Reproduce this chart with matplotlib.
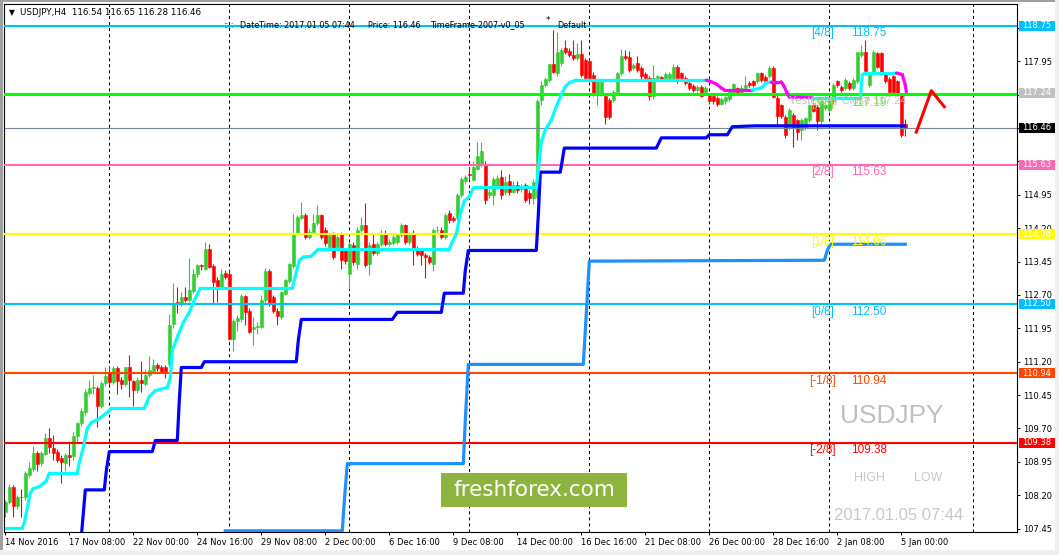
import numpy as np
import matplotlib.pyplot as plt
from matplotlib.patches import Rectangle
from matplotlib.transforms import blended_transform_factory

# USDJPY H4 bars, first bar 14 Nov 2016 16:00, last 5 Jan 2017 04:00
opens = [
    107.82, 108.04, 108.39, 107.96, 108.17, 108.15, 108.65, 108.79, 109.14, 108.92,
    109.13, 109.49, 109.26, 109.18, 109.03, 108.92, 109.11, 109.08, 109.52, 109.82,
    110.06, 110.50, 110.62, 110.62, 110.21, 110.72, 110.95, 110.75, 111.06, 110.78,
    110.69, 111.08, 110.77, 110.57, 110.80, 110.69, 110.90, 111.00, 111.12, 111.08,
    111.08, 111.15, 112.04, 112.54, 112.52, 112.65, 112.59, 112.80, 113.18, 113.38,
    113.29, 113.74, 113.34, 113.03, 112.88, 113.19, 113.18, 111.72, 112.11, 112.17,
    112.67, 112.35, 111.94, 111.99, 111.98, 112.58, 113.23, 112.65, 112.35, 112.21,
    112.73, 113.02, 113.35, 114.10, 114.42, 114.49, 114.00, 114.12, 114.31, 114.49,
    114.16, 113.78, 114.08, 113.78, 114.08, 113.70, 113.18, 113.82, 113.40, 114.17,
    114.27, 113.39, 113.85, 113.64, 113.85, 114.10, 113.85, 113.86, 113.90, 114.04,
    114.27, 113.89, 114.10, 113.74, 113.70, 113.60, 113.55, 113.40, 114.16, 114.17,
    114.00, 114.55, 114.44, 114.42, 114.94, 115.26, 115.42, 115.28, 115.54, 115.62,
    115.62, 114.94, 114.94, 115.13, 115.35, 115.02, 115.26, 115.02, 115.18, 115.08,
    115.18, 115.00, 114.87, 114.90, 117.08, 117.42, 117.53, 117.89, 117.68, 117.91,
    118.25, 118.19, 118.10, 118.02, 118.11, 117.98, 117.96, 117.65, 117.20, 117.23,
    117.16, 117.08, 117.08, 117.27, 117.68, 118.06, 118.04, 117.80, 117.91, 117.80,
    117.66, 117.57, 117.16, 117.57, 117.59, 117.57, 117.57, 117.57, 117.83, 117.68,
    117.57, 117.46, 117.40, 117.31, 117.38, 117.25, 117.20, 117.16, 117.12, 117.00,
    117.05, 117.10, 117.23, 117.34, 117.27, 117.35, 117.47, 117.50, 117.50, 117.68,
    117.60, 117.61, 117.80, 117.12, 116.97, 116.71, 116.47, 116.74, 116.63, 116.41,
    116.45, 116.63, 116.97, 116.93, 116.60, 116.90, 116.86, 117.05, 117.50, 117.38,
    117.35, 117.46, 117.35, 117.50, 118.10, 118.17, 117.42, 117.68, 118.13, 118.13,
    117.68, 117.55, 117.61, 117.50, 117.20, 116.54]
highs = [
    108.10, 108.45, 108.42, 108.20, 108.35, 108.75, 108.95, 109.31, 109.20, 109.20,
    109.60, 109.71, 109.56, 109.25, 109.10, 109.15, 109.41, 109.61, 109.85, 110.15,
    110.59, 110.78, 110.90, 110.65, 110.76, 111.08, 111.11, 111.10, 111.10, 110.85,
    111.09, 111.34, 110.80, 110.85, 111.21, 111.04, 111.32, 111.27, 111.18, 111.12,
    111.12, 112.28, 112.97, 112.88, 112.77, 112.88, 113.52, 113.29, 113.40, 113.40,
    113.88, 113.85, 113.40, 113.10, 113.29, 113.25, 113.25, 112.16, 112.25, 112.72,
    112.70, 112.40, 112.20, 112.09, 112.69, 113.31, 113.28, 112.70, 112.40, 112.80,
    113.05, 113.42, 114.51, 114.50, 114.79, 114.55, 114.18, 114.53, 114.72, 114.52,
    114.22, 114.10, 114.12, 114.05, 114.12, 113.75, 113.90, 113.88, 114.22, 114.46,
    114.76, 113.88, 114.08, 113.90, 114.15, 114.15, 113.95, 114.05, 114.10, 114.32,
    114.30, 114.12, 114.15, 113.80, 113.75, 113.65, 113.60, 114.20, 114.25, 114.22,
    114.55, 114.60, 114.48, 115.00, 115.35, 115.40, 115.58, 115.70, 116.13, 116.13,
    115.70, 115.08, 115.35, 115.40, 115.50, 115.38, 115.42, 115.25, 115.25, 115.20,
    115.22, 115.05, 115.30, 117.10, 117.50, 117.60, 117.90, 118.66, 118.62, 118.25,
    118.43, 118.25, 118.43, 118.36, 118.43, 118.02, 118.00, 117.70, 117.55, 117.55,
    117.20, 117.12, 117.30, 117.72, 118.23, 118.21, 118.19, 117.92, 118.06, 117.85,
    117.70, 117.62, 117.86, 117.65, 117.63, 117.70, 117.70, 117.90, 117.87, 117.72,
    117.61, 117.50, 117.44, 117.42, 117.42, 117.40, 117.24, 117.20, 117.16, 117.14,
    117.18, 117.36, 117.47, 117.38, 117.42, 117.61, 117.51, 117.54, 117.72, 117.72,
    117.64, 117.84, 117.84, 117.20, 117.00, 116.75, 116.90, 116.78, 116.66, 116.68,
    116.70, 117.00, 117.00, 116.97, 117.08, 117.00, 117.08, 117.46, 117.54, 117.42,
    117.57, 117.50, 117.57, 118.17, 118.32, 118.43, 117.72, 118.20, 118.17, 118.17,
    117.72, 117.59, 117.65, 117.54, 117.24, 116.65]
lows = [
    107.70, 108.00, 107.72, 107.90, 107.72, 108.10, 108.60, 108.75, 108.75, 108.85,
    109.10, 109.16, 109.00, 108.95, 108.48, 108.75, 108.86, 109.00, 109.40, 109.75,
    110.00, 110.45, 110.47, 109.74, 110.15, 110.65, 110.70, 110.70, 110.48, 110.59,
    110.65, 110.40, 110.21, 110.50, 110.51, 110.65, 110.85, 110.95, 111.00, 110.95,
    110.83, 111.10, 111.95, 112.30, 112.45, 112.55, 112.55, 112.75, 113.10, 113.25,
    113.25, 113.30, 112.52, 112.54, 112.85, 113.05, 111.70, 111.45, 111.90, 112.10,
    112.02, 111.85, 111.57, 111.83, 111.95, 112.50, 112.45, 112.30, 112.02, 112.15,
    112.70, 112.98, 113.30, 114.05, 114.40, 113.95, 113.95, 114.08, 114.28, 113.95,
    113.80, 113.70, 113.50, 113.72, 113.29, 113.40, 112.84, 113.38, 113.29, 114.12,
    113.32, 113.14, 113.60, 113.60, 113.80, 113.80, 113.80, 113.82, 113.85, 114.00,
    113.85, 113.85, 113.37, 113.58, 113.37, 113.09, 113.40, 113.24, 114.10, 113.95,
    113.95, 114.32, 114.33, 114.38, 114.90, 115.20, 115.28, 115.25, 115.50, 115.58,
    114.75, 114.88, 114.72, 115.08, 114.85, 114.95, 114.95, 114.98, 115.00, 115.02,
    114.78, 114.75, 114.75, 114.85, 116.97, 117.38, 117.48, 117.68, 117.62, 117.85,
    118.12, 118.05, 117.98, 117.98, 117.60, 117.52, 117.52, 117.18, 116.97, 117.18,
    116.54, 116.66, 117.03, 117.22, 117.64, 117.98, 117.72, 117.75, 117.72, 117.56,
    117.52, 117.08, 117.10, 117.52, 117.52, 117.53, 117.53, 117.53, 117.46, 117.53,
    117.42, 117.30, 117.27, 117.27, 117.14, 117.20, 117.00, 117.00, 116.95, 116.96,
    117.00, 117.06, 117.19, 117.21, 117.23, 117.31, 117.38, 117.38, 117.46, 117.49,
    117.46, 117.57, 117.12, 116.52, 116.68, 116.22, 116.40, 116.03, 116.18, 116.18,
    116.40, 116.58, 116.80, 116.41, 116.55, 116.86, 116.82, 117.00, 117.38, 117.27,
    117.31, 117.31, 117.31, 117.46, 118.05, 117.64, 117.38, 117.64, 117.79, 117.64,
    117.46, 117.23, 117.23, 117.16, 116.26, 116.28]
closes = [
    108.04, 108.39, 107.96, 108.17, 108.15, 108.70, 108.81, 109.16, 108.90, 109.14,
    109.49, 109.28, 109.14, 109.00, 108.94, 109.11, 109.05, 109.54, 109.82, 110.10,
    110.53, 110.62, 110.63, 110.21, 110.72, 110.89, 110.75, 111.06, 110.76, 110.69,
    111.08, 110.79, 110.57, 110.80, 110.72, 110.90, 111.02, 111.12, 111.06, 110.98,
    111.00, 112.03, 112.49, 112.49, 112.65, 112.58, 112.82, 113.18, 113.37, 113.34,
    113.74, 113.33, 113.00, 112.88, 113.16, 113.10, 111.72, 112.11, 112.18, 112.67,
    112.32, 111.87, 111.99, 112.00, 112.58, 113.23, 112.50, 112.34, 112.22, 112.77,
    113.03, 113.39, 114.10, 114.46, 114.49, 114.00, 114.12, 114.32, 114.49, 114.00,
    113.86, 114.04, 113.55, 114.00, 113.48, 113.46, 113.85, 113.44, 114.17, 114.27,
    113.37, 113.82, 113.64, 113.85, 114.10, 113.85, 113.89, 114.00, 114.04, 114.27,
    113.89, 114.08, 113.74, 113.63, 113.59, 113.55, 113.44, 114.16, 114.17, 114.00,
    114.49, 114.38, 114.38, 114.94, 115.30, 115.34, 115.40, 115.58, 115.83, 115.93,
    114.83, 115.02, 115.30, 115.33, 114.94, 115.24, 115.02, 115.18, 115.05, 115.13,
    114.83, 114.87, 115.24, 117.05, 117.42, 117.55, 117.89, 117.72, 118.17, 118.21,
    118.17, 118.10, 118.02, 118.11, 117.65, 117.57, 117.57, 117.23, 117.50, 117.49,
    116.71, 116.71, 117.27, 117.68, 118.06, 118.02, 117.76, 117.87, 117.76, 117.61,
    117.57, 117.18, 117.57, 117.61, 117.56, 117.66, 117.66, 117.83, 117.57, 117.57,
    117.46, 117.35, 117.31, 117.38, 117.18, 117.35, 117.05, 117.05, 117.00, 117.10,
    117.14, 117.32, 117.43, 117.25, 117.35, 117.42, 117.42, 117.42, 117.68, 117.53,
    117.50, 117.80, 117.15, 116.72, 116.72, 116.30, 116.86, 116.45, 116.37, 116.63,
    116.67, 116.97, 116.84, 116.60, 117.05, 116.97, 117.05, 117.42, 117.42, 117.31,
    117.53, 117.35, 117.53, 118.17, 118.17, 117.68, 117.68, 118.17, 117.83, 117.68,
    117.50, 117.27, 117.27, 117.20, 116.30, 116.46]

# trailing line (cyan = up, magenta = down), vertices in bar index / price
trail_k = [0.25, 4.25, 4.75, 5.25, 6.25, 7.0, 8.5, 10.25, 11.0, 18.0, 18.5, 19.5, 20.5,
           21.5, 23.5, 25.5, 26.5, 34.75, 36.0, 37.5, 40.5, 41.25, 41.75, 43.0, 44.5,
           46.0, 47.25, 48.75, 71.75, 72.5, 73.5, 74.5, 76.5, 77.5, 78.25, 111.0,
           111.75, 112.75, 113.75, 114.75, 116.0, 117.0, 117.75, 132.75, 133.25, 134.0,
           135.0, 136.5, 137.75, 139.0, 140.0, 141.0, 142.75, 175.25, 176.5, 177.75,
           179.0, 179.75, 186.75, 189.0, 190.25, 191.5, 194.0, 194.75, 195.5, 196.0,
           201.75, 213.75, 214.25, 215.0, 222.75, 224.25, 225.0, 225.25]
trail_p = [107.47, 107.47, 107.58, 107.80, 108.25, 108.35, 108.39, 108.52, 108.70, 108.70,
           108.93, 109.27, 109.70, 109.83, 109.92, 110.06, 110.15, 110.15, 110.42, 110.55,
           110.62, 110.82, 111.45, 111.75, 112.08, 112.31, 112.58, 112.85, 112.85, 113.12,
           113.48, 113.55, 113.57, 113.66, 113.73, 113.73, 113.89, 114.07, 114.52, 114.81,
           114.90, 115.10, 115.12, 115.12, 115.50, 116.14, 116.41, 116.63, 116.93, 117.20,
           117.38, 117.47, 117.53, 117.53, 117.49, 117.44, 117.35, 117.31, 117.31, 117.35,
           117.47, 117.49, 117.49, 117.38, 117.22, 117.15, 117.13, 117.13, 117.65, 117.69,
           117.69, 117.65, 117.42, 117.26]
trail_up = [1] * 53 + [0, 0, 0, 0, 0, 1, 1, 1, 0, 0, 0, 0, 0, 1, 1, 1, 1, 0, 0, 0, 0]

blue_k = [18.75, 20.0, 24.75, 25.25, 26.0, 36.75, 37.5, 43.0, 43.5, 44.0, 49.0, 49.75,
          72.75, 73.25, 74.0, 96.75, 98.0, 109.0, 109.75, 114.5, 115.0, 115.75, 132.75,
          133.25, 133.75, 138.75, 139.75, 162.75, 164.0, 175.25, 176.0, 180.5, 181.75,
          187.25, 224.75]
blue_p = [107.0, 108.32, 108.32, 108.75, 109.18, 109.18, 109.43, 109.43, 110.33, 111.07,
          111.07, 111.2, 111.2, 111.68, 112.15, 112.15, 112.31, 112.31, 112.74, 112.74,
          113.25, 113.7, 113.7, 114.49, 115.46, 115.46, 116.0, 116.0, 116.23, 116.23,
          116.3, 116.3, 116.48, 116.5, 116.5]

lblue_k = [55.0, 84.25, 84.75, 85.5, 114.5, 115.0, 115.75, 144.5, 145.0, 146.0, 204.75,
           205.5, 206.25, 225.0]
lblue_p = [107.40, 107.40, 108.07, 108.91, 108.91, 109.88, 111.14, 111.14, 111.9, 113.46,
           113.48, 113.70, 113.84, 113.84]

arrow_k = [227.75, 231.5, 234.75]
arrow_p = [116.36, 117.29, 116.93]

murrey_names = ['[4/8]', '[3/8]', '[2/8]', '[1/8]', '[0/8]', '[-1/8]', '[-2/8]']
murrey_values = [118.75, 117.19, 115.63, 114.06, 112.50, 110.94, 109.38]
murrey_colors = ['#00BFFF', '#9ACD32', '#FF69B4', '#FFFF00', '#00BFFF', '#FF4500', '#FF0000']
murrey_num_colors = ['#00BFFF', '#7CDC50', '#FF69B4', '#FFFF00', '#00BFFF', '#FF4500', '#FF0000']

yesterday_close = 117.24
last_price = 116.46

box_values = [118.75, 117.24, 116.46, 115.63, 114.06, 112.50, 110.94, 109.38]
box_colors = ['#00BFFF', '#C0C0C0', '#000000', '#FF69B4', '#FFFF00', '#00BFFF', '#FF4500', '#FF0000']

price_ticks = [107.45, 108.20, 108.95, 109.70, 110.45, 111.20, 111.95, 112.70, 113.45,
               114.20, 114.95, 115.70, 116.45, 117.20, 117.95, 118.70]
hidden_ticks = [115.70, 116.45, 117.20, 118.70]   # fully covered by the price boxes
time_ticks = [0, 16, 32, 48, 64, 80, 96, 112, 128, 144, 160, 176, 192, 208, 224]
time_labels = ['14 Nov 2016', '17 Nov 08:00', '22 Nov 00:00', '24 Nov 16:00', '29 Nov 08:00',
               '2 Dec 00:00', '6 Dec 16:00', '9 Dec 08:00', '14 Dec 00:00', '16 Dec 16:00',
               '21 Dec 08:00', '26 Dec 00:00', '28 Dec 16:00', '2 Jan 08:00', '5 Jan 00:00']
week_starts = [26, 56, 86, 116, 146, 176, 206, 242]

plt.rcParams['font.family'] = ['DejaVu Sans']
W, H = 1059, 555
fig = plt.figure(figsize=(W / 100, H / 100), dpi=100)
fig.patch.set_facecolor('white')
ax_l, ax_r, ax_t, ax_b = 4, 1017.3, 4, 532.3
ax = fig.add_axes([ax_l / W, (H - ax_b) / H, (ax_r - ax_l) / W, (ax_b - ax_t) / H])
ax.set_xlim(-0.325, 253.0)
ax.set_ylim(107.367, 119.238)

# weekly dashed grid
for k in week_starts:
    ax.axvline(k, color='black', lw=0.75, ls=(0, (2.9, 2.9)), zorder=1)

# candles
idx = np.arange(len(closes))
o = np.array(opens)
c = np.array(closes)
cols = np.where(c >= o, '#32CD32', '#FF0000')
ax.vlines(idx, lows, highs, colors=cols, lw=0.8, zorder=2)
ax.bar(idx, np.abs(c - o), bottom=np.minimum(o, c), width=0.76, color=cols,
       edgecolor=cols, lw=0.4, zorder=2)

# levels
ax.axhline(last_price, color='#778899', lw=0.8, zorder=2.5)
for val, col in zip(murrey_values, murrey_colors):
    if val == 117.19:
        continue
    ax.axhline(val, color=col, lw=1.5, zorder=3)
ax.axhline(117.21, color='#00FF00', lw=2.2, zorder=3)

# indicator lines
ax.plot(lblue_k, lblue_p, color='#1E90FF', lw=2.3, zorder=4)
ax.plot(blue_k, blue_p, color='#0000FF', lw=2.3, zorder=4)
for i in range(len(trail_k) - 1):
    col = '#00FFFF' if trail_up[i] else '#FF00FF'
    ax.plot(trail_k[i:i + 2], trail_p[i:i + 2], color=col, lw=2.3,
            solid_capstyle='round', zorder=4)
ax.plot(arrow_k, arrow_p, color='#FF0000', lw=2.2, zorder=5)

# level captions
lab = dict(family='Liberation Sans', fontsize=8.5)
ax.annotate('Yesterday Close 117.24', xy=(195.9, yesterday_close), xytext=(0, -5.5),
            textcoords='offset points', ha='left', va='center', color='#C0C0C0',
            family='Liberation Sans', fontsize=8, zorder=6)
for name, val, col, ncol in zip(murrey_names, murrey_values, murrey_colors, murrey_num_colors):
    ax.annotate(name, xy=(204.3, val), xytext=(0, -5.5), textcoords='offset points',
                ha='center', va='center', color=col, zorder=6, **lab)
    ax.annotate(f'{val:.2f}', xy=(211.4, val), xytext=(0, -5.5), textcoords='offset points',
                ha='left', va='center', color=ncol, zorder=6, **lab)

ax.text(221.7, 109.97, 'USDJPY', color='#C0C0C0', family='Liberation Sans', fontsize=19,
        ha='center', va='center', zorder=6)
ax.text(216.1, 108.59, 'HIGH', color='#C8C8C8', family='Liberation Sans', fontsize=9,
        ha='center', va='center', zorder=6)
ax.text(230.8, 108.59, 'LOW', color='#C8C8C8', family='Liberation Sans', fontsize=9,
        ha='center', va='center', zorder=6)
ax.text(223.4, 107.75, '2017.01.05 07:44', color='#C8C8C8', family='Liberation Sans',
        fontsize=12, ha='center', va='center', zorder=6)

# axes styling
for s in ax.spines.values():
    s.set_color('black')
    s.set_linewidth(0.8)
ax.yaxis.tick_right()
ax.set_yticks(price_ticks)
ax.set_yticklabels(['' if p in hidden_ticks else f'{p:.2f}' for p in price_ticks], fontsize=6)
ax.set_xticks(time_ticks)
ax.set_xticklabels(time_labels, fontsize=6, ha='left')
ax.tick_params(axis='both', length=2.5, width=0.7, pad=1.5, direction='out')

# coloured price boxes on the right scale
bt = blended_transform_factory(ax.transAxes, ax.transData)
axw = ax_r - ax_l
for val, bg in zip(box_values, box_colors):
    ax.add_patch(Rectangle((1 + 1.7 / axw, val - 0.112), 36 / axw, 0.224, transform=bt,
                           facecolor=bg, edgecolor='none', clip_on=False, zorder=10))
    ax.text(1 + 19.7 / axw, val, f'{val:.2f}', transform=bt, color='white', fontsize=6,
            ha='center', va='center', clip_on=False, zorder=11)

# header texts
def fx(x, y):
    return x / W, 1 - y / H

fig.text(*fx(8.5, 12.8), '\u25bc', fontsize=5.5, ha='left', va='center')
fig.text(*fx(20, 12.8), 'USDJPY,H4  116.54 116.65 116.28 116.46', fontsize=6.3,
         ha='left', va='center')
fig.text(*fx(223, 25), '::::', fontsize=5.8, ha='left', va='center')
fig.text(*fx(240, 25), 'DateTime: 2017.01.05 07:44', fontsize=5.8, ha='left', va='center')
fig.text(*fx(368, 25), 'Price: 116.46', fontsize=5.8, ha='left', va='center')
fig.text(*fx(430, 25), 'TimeFrame-2007-v0_05', fontsize=5.8, ha='left', va='center')
fig.text(*fx(546, 21), '*', fontsize=6.3, ha='left', va='center')
fig.text(*fx(557, 25), 'Default', fontsize=5.8, ha='left', va='center')

# freshforex logo
fig.add_artist(Rectangle((441 / W, (H - 507) / H), 186 / W, 34 / H, transform=fig.transFigure,
                         facecolor='#8cb43f', edgecolor='none', zorder=5))
fig.text(*fx(534, 490), 'freshforex.com', color='white', fontsize=15.5, ha='center',
         va='center', zorder=6)

# window border
fig.add_artist(Rectangle((0, 0), 3 / W, 1, transform=fig.transFigure, facecolor='#A0A0A0',
                         edgecolor='none', zorder=0))
fig.add_artist(Rectangle((0, 1 - 2 / H), 1, 2 / H, transform=fig.transFigure,
                         facecolor='#A0A0A0', edgecolor='none', zorder=0))
fig.add_artist(Rectangle((0, 0), 1, 5 / H, transform=fig.transFigure, facecolor='#F0F0F0',
                         edgecolor='none', zorder=0))
fig.add_artist(Rectangle((1 - 4 / W, 0), 4 / W, 1, transform=fig.transFigure,
                         facecolor='#F0F0F0', edgecolor='none', zorder=0))

fig.savefig('out.png', dpi=100)
